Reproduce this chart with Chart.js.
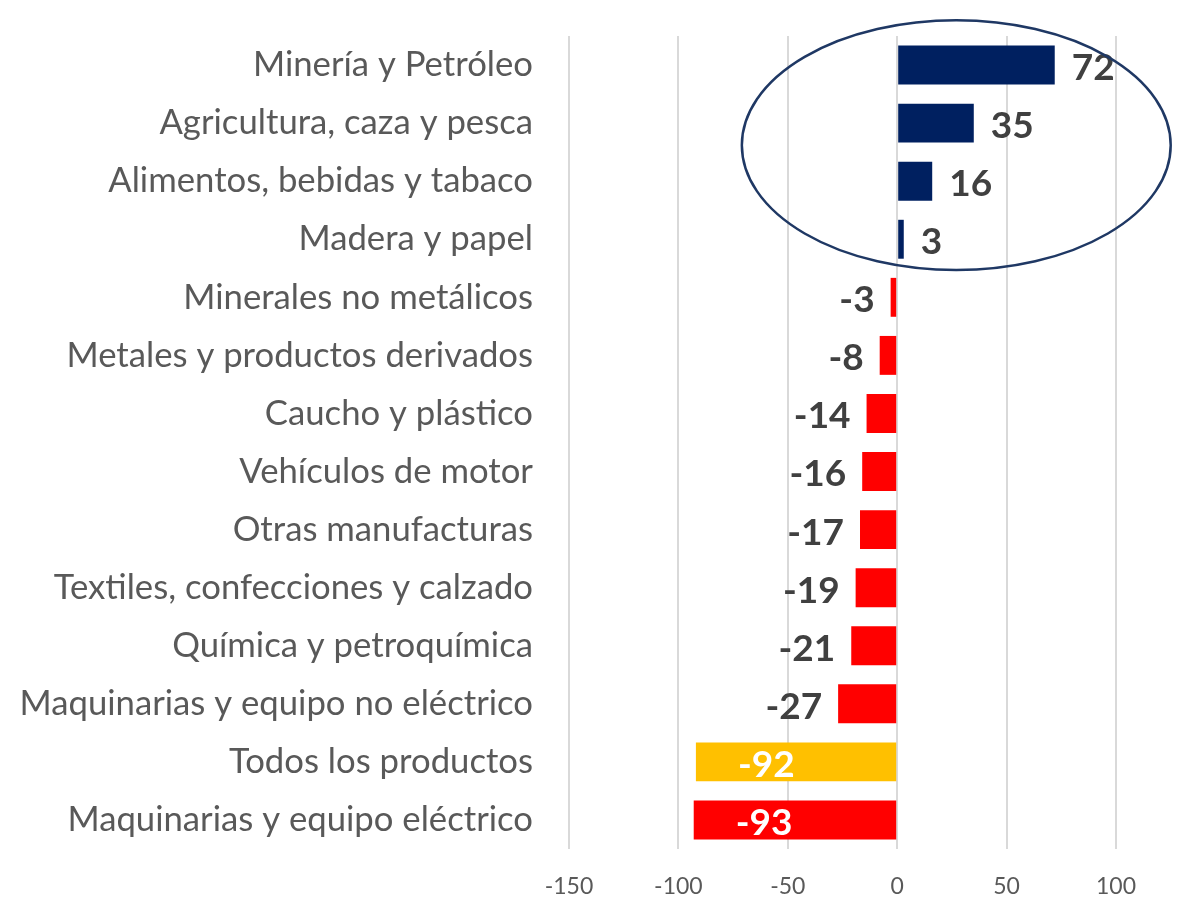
<!DOCTYPE html>
<html>
<head>
<meta charset="utf-8">
<script src="https://cdn.jsdelivr.net/npm/chart.js@4.4.1/dist/chart.umd.min.js"></script>
<style>
  body { margin: 0; background: #fff; }
</style>
</head>
<body>
<canvas id="grafico" width="1178" height="900"></canvas>
<script>
const sectores = [
    'Minería y Petróleo',
    'Agricultura, caza y pesca',
    'Alimentos, bebidas y tabaco',
    'Madera y papel',
    'Minerales no metálicos',
    'Metales y productos derivados',
    'Caucho y plástico',
    'Vehículos de motor',
    'Otras manufacturas',
    'Textiles, confecciones y calzado',
    'Química y petroquímica',
    'Maquinarias y equipo no eléctrico',
    'Todos los productos',
    'Maquinarias y equipo eléctrico'
];
const variacion = [72, 35, 16, 3, -3, -8, -14, -16, -17, -19, -21, -27, -92, -93];
const colores = ['#002060', '#002060', '#002060', '#002060', '#FF0000', '#FF0000', '#FF0000',
    '#FF0000', '#FF0000', '#FF0000', '#FF0000', '#FF0000', '#FFC000', '#FF0000'];
const ticksX = [-150, -100, -50, 0, 50, 100];

const fuente = 'Lato, "Open Sans", sans-serif';

// etiquetas de valor al final de cada barra
const etiquetas = {
    id: 'etiquetas',
    afterDatasetsDraw(chart) {
        const ctx = chart.ctx;
        const meta = chart.getDatasetMeta(0);
        ctx.save();
        ctx.font = 'bold 37px ' + fuente;
        ctx.textBaseline = 'middle';
        meta.data.forEach((bar, i) => {
            const v = variacion[i];
            const y = bar.y + 3;
            if (v >= 0) {
                ctx.fillStyle = '#404040';
                ctx.textAlign = 'left';
                ctx.fillText(String(v), bar.x + 17, y);
            } else if (v < -50) {
                ctx.fillStyle = '#ffffff';
                ctx.textAlign = 'left';
                ctx.fillText(String(v), bar.x + 42, y);
            } else {
                ctx.fillStyle = '#404040';
                ctx.textAlign = 'right';
                ctx.fillText(String(v), bar.x - 16, y);
            }
        });
        ctx.restore();
    }
};

// elipse que resalta los sectores con variación positiva
const elipse = {
    id: 'elipse',
    afterDraw(chart) {
        const x = chart.scales.x, y = chart.scales.y;
        const cx = x.getPixelForValue(27);
        const rx = x.getPixelForValue(27 + 98) - cx;
        const cy = y.getPixelForValue(1.38);
        const ry = y.getPixelForValue(1.38 + 2.15) - cy;
        const ctx = chart.ctx;
        ctx.save();
        ctx.strokeStyle = '#1F3864';
        ctx.lineWidth = 2.5;
        ctx.beginPath();
        ctx.ellipse(cx, cy, rx, ry, 0, 0, Math.PI * 2);
        ctx.stroke();
        ctx.restore();
    }
};

new Chart(document.getElementById('grafico').getContext('2d'), {
    type: 'bar',
    data: {
        labels: sectores,
        datasets: [{
            data: variacion,
            backgroundColor: colores,
            borderWidth: 0,
            categoryPercentage: 1,
            barPercentage: 0.67
        }]
    },
    options: {
        indexAxis: 'y',
        responsive: false,
        animation: false,
        layout: { padding: { top: 36, right: 62, left: 0, bottom: 0 } },
        plugins: {
            legend: { display: false },
            tooltip: { enabled: false }
        },
        scales: {
            x: {
                min: -150,
                max: 100,
                afterBuildTicks(scale) {
                    scale.ticks = ticksX.map(v => ({ value: v }));
                },
                afterFit(scale) { scale.height = 51; },
                grid: { color: '#d9d9d9', lineWidth: 2, drawTicks: false },
                border: { display: false },
                ticks: {
                    padding: 24,
                    color: '#595959',
                    font: { family: fuente, size: 23 }
                }
            },
            y: {
                afterFit(scale) {
                    scale.width = 569;
                    scale.paddingTop = 0;
                    scale.paddingBottom = 0;
                },
                grid: { display: false, drawTicks: false },
                border: { display: false },
                ticks: {
                    padding: 36,
                    color: '#595959',
                    font: { family: fuente, size: 34.7 }
                }
            }
        }
    },
    plugins: [etiquetas, elipse]
});
</script>
</body>
</html>
